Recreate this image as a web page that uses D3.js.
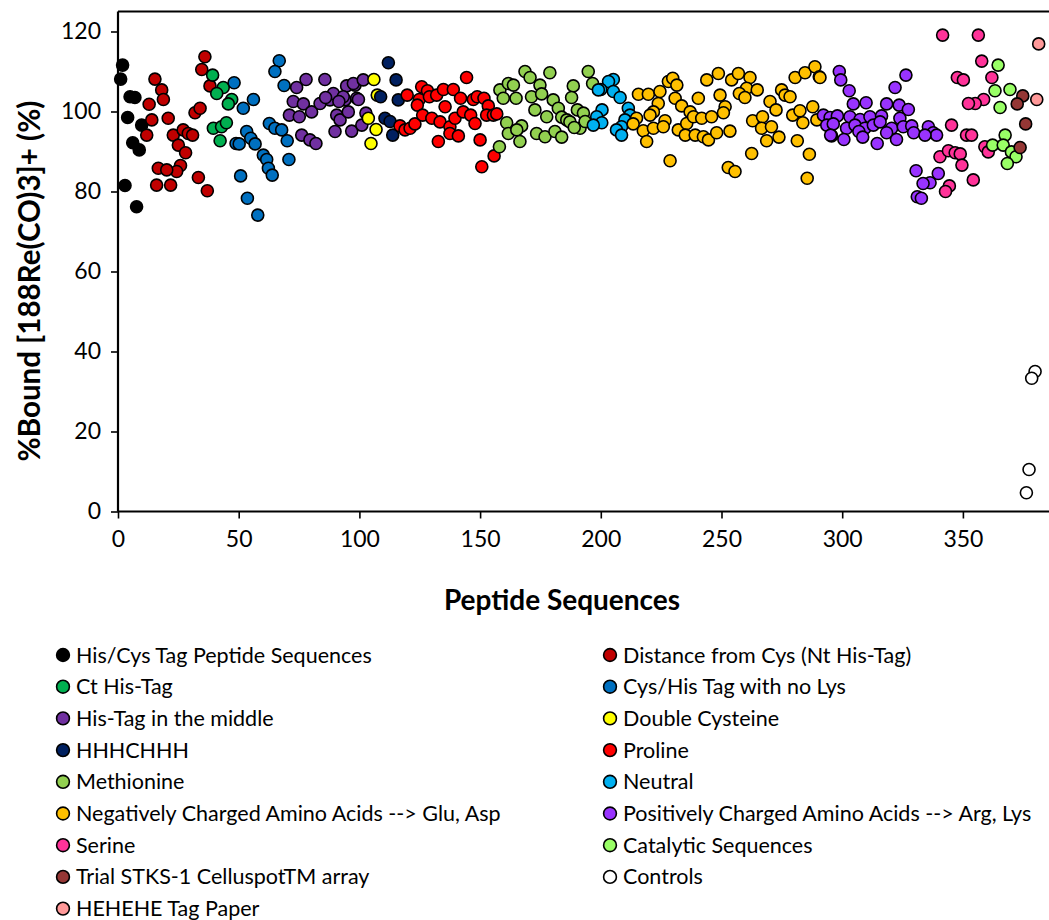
<!DOCTYPE html>
<html>
<head>
<meta charset="utf-8">
<script src="https://cdn.jsdelivr.net/npm/d3@7/dist/d3.min.js"></script>
<style>
  html, body { margin: 0; padding: 0; background: #fff; }
  svg { display: block; font-family: Lato, "Open Sans", sans-serif; }
</style>
</head>
<body>
<svg id="chart" width="1049" height="920"></svg>
<script>
// Peptide index vs. % bound, one array of [peptide, %bound] per sequence group
const hisCysTag = [[1.9,111.6],[1.1,108.1],[5,103.7],[7,103.5],[4,98.5],[9.8,96.6],[6.1,92.2],[8.8,90.4],[2.9,81.5],[7.7,76.2]];
const distanceFromCys = [[15.3,108.1],[18.1,105.4],[18.8,103],[12.9,101.8],[20.8,98.3],[14,97.9],[11.9,94.1],[22.9,94.1],[27,95.4],[29.1,94.5],[30.9,94.1],[25,91.6],[28,89.7],[25.9,86.5],[24.3,85],[16.7,85.8],[20.2,85.4],[16,81.6],[21.8,81.6],[33.3,83.5],[37,80.2],[36,113.7],[34.7,110.5],[38.1,106.4],[31.9,99.7],[34,100.8]];
const ctHisTag = [[39.2,109.1],[43.6,106],[40.9,104.5],[47.1,103],[45.7,101.9],[39.5,95.8],[42.9,96.2],[44.9,97.2],[42.3,92.7]];
const cysHisNoLys = [[48.1,107.2],[56.1,103],[51.9,100.8],[48.9,92],[50.2,91.9],[53.3,95],[55,93.3],[56.8,91.9],[60.2,89.1],[61.6,88],[62.3,85.8],[63.9,84.1],[50.8,83.9],[53.6,78.3],[57.9,74.1],[62.7,97],[65,95.8],[67.8,95.4],[70.1,92.7],[70.8,88],[66.8,112.7],[65,110],[68.8,106.5]];
const hisTagMiddle = [[74,106],[77.9,108],[85.7,108],[72.6,102.5],[76.8,101.9],[71,99.1],[75.1,98.7],[80.2,99.9],[83.7,102],[87.8,102.9],[89.2,104.5],[90.6,99.1],[92,97.9],[95.4,99.9],[94,102.9],[94.7,106.4],[98.2,106.6],[98.9,103.3],[76.1,94.1],[79.5,92.9],[82,92],[89.9,95],[96.8,95.1],[97.5,107],[101.6,107.9],[93.3,103.7],[99.6,103],[102.7,99.6],[101,96.6],[86,103.5],[91.5,102.5]];
const doubleCys = [[106,108],[107.4,104.1],[103.7,98.3],[106.9,95.5],[104.8,92]];
const hhhchhh = [[112,112.2],[115.2,107.9],[108.8,103.7],[116.1,102.9],[110.6,98.3],[112.7,97.5],[113.8,94.1]];
const proline = [[116.8,96.4],[118.9,95.4],[121,95.8],[123,96.9],[119.8,104.1],[125.8,106.2],[128.2,105.2],[124.8,103],[124,101.6],[129,103.7],[132,104.1],[134.8,105.5],[138.9,105.5],[141.9,103.3],[144.4,108.5],[135.5,101.2],[126.2,99.1],[130,98.3],[133.4,97.4],[137.5,96.2],[139.6,98.3],[143,99.9],[146.1,99.1],[147.9,97],[147.2,103],[148.8,103.7],[151.6,103.3],[153.4,101.4],[152.7,99.1],[155.5,99.1],[156.9,99.4],[132.7,92.5],[137.5,94.5],[141,93.9],[150,92.9],[155.8,88.9],[150.7,86.2]];
const methionine = [[158.2,105.4],[161.7,107],[163.8,106.6],[159.6,103.3],[164.9,103.3],[168.6,110],[170.7,108.5],[174.8,106.6],[178.9,109.7],[171.3,103.7],[175.5,104.4],[180.3,102.9],[188.6,106.4],[187.9,103.5],[182.4,100.8],[172.7,100.4],[177.6,98.7],[161,97.2],[167.2,96.4],[161.7,94.5],[165.2,95.4],[166.5,92.5],[173.4,94.5],[176.9,93.7],[181,95],[183.8,93.6],[183.8,98.6],[185.9,97.9],[187.2,97.4],[190.3,100.4],[192.8,99.6],[191.4,95.8],[194.8,110],[196.6,107],[158,91.2],[193.5,97.5],[189,96]];
const neutral = [[205.2,108],[203.2,107.5],[200,105.5],[205.2,105],[208,103.5],[200.5,100.4],[198.3,98.7],[200.4,97.2],[196.9,96.6],[211.4,100.8],[212.1,99.1],[210,97.9],[208.6,96.2],[206.5,95.4],[208.6,94.1],[199,105.4]];
const negativeCharged = [[215.6,104.3],[219.7,104.3],[224.5,105],[228,107.5],[229.8,108.3],[231.5,106.6],[223.8,102],[221.8,99.9],[220.4,99.1],[230.8,103.3],[233.5,101.4],[237,99.9],[240.4,103.3],[214.8,98.3],[213.4,96.9],[217.6,95.2],[221.8,95.8],[226.6,97.7],[225.9,96.2],[219,92.5],[232.1,95.4],[235.6,97],[238.4,98.7],[241.8,98.3],[245.9,98.7],[235,94.1],[239.1,94.1],[242.5,93.7],[244.6,92.9],[248,94.7],[253.5,95.1],[243.9,107.9],[248.7,109.5],[254.2,107.9],[257,109.5],[261.8,108.5],[260.4,105.8],[257.4,104.5],[259.7,103.5],[264.8,105.4],[249.4,104.1],[251.5,101.2],[250.8,99.7],[228.7,87.7],[252.8,86],[255.6,85],[262.5,89.5],[262.9,97.7],[267,98.7],[266.6,95.8],[270.7,96.2],[268.7,92.7],[273.8,93.6],[270.1,102.5],[272.6,100.4],[274.9,105.4],[276.3,104.1],[278.4,103.7],[280.5,108.5],[284.6,109.7],[288.7,111.2],[290.5,108.7],[279.5,99.1],[282.5,100.2],[283.7,97.2],[287.8,101.2],[289.5,97.9],[281.4,92.7],[286.4,89.3],[285.5,83.3],[290.8,108.5]];
const positiveCharged = [[298.8,110],[299.4,107.9],[302.9,105.2],[304.6,101.9],[309.9,102.2],[326.4,109.1],[321.9,106],[318.4,101.9],[323.6,101.6],[327.4,100.5],[292.2,99.1],[295,98.5],[298,98.9],[303.2,98.7],[307.4,98],[311.5,98.7],[316.3,98.9],[323.9,98.3],[293.6,96.6],[296.3,96.9],[301.8,95.8],[305.3,96.6],[309.4,95.8],[312.9,96.6],[315.7,97.4],[320.5,95.8],[325.3,96.2],[328.8,96.4],[335.7,96.2],[337.7,94.7],[339.1,94.1],[295.6,93.9],[300.7,93],[306.9,95],[308.5,93.6],[314.5,92],[318.4,94.7],[322.5,93],[329.6,94.7],[334.3,94.1],[330.6,85.2],[339.8,84.5],[336.4,82.2],[333.5,82],[331.1,78.7],[332.8,78.3],[295.2,94.1]];
const serine = [[341.6,119.1],[356.4,119.1],[357.8,112.6],[347.7,108.5],[350.2,107.9],[362,108.5],[358.6,103],[355.1,102],[352.3,102],[345.3,96.6],[351.5,94.1],[353.6,94.1],[340.5,88.7],[344,90.2],[346.8,89.7],[348.9,89.4],[349.6,86.6],[359.1,91.2],[360.5,89.9],[354.3,82.9],[344.4,81.4],[342.8,80]];
const catalytic = [[364.6,111.6],[363.3,105.2],[369.5,105.5],[365.4,101],[367.5,94.1],[362.3,91.6],[366.7,91.6],[370.1,89.9],[372,88.7],[368.4,87]];
const trialStks = [[374.8,103.9],[372.5,101.9],[376,96.9],[373.7,91]];
const controls = [[379.9,35],[378.5,33.3],[377.4,10.5],[376.3,4.7]];
const hehehe = [[381.4,116.9],[380.6,103]];

const seriesNames = [
  "His/Cys Tag Peptide Sequences", "Distance from Cys (Nt His-Tag)",
  "Ct His-Tag", "Cys/His Tag with no Lys",
  "His-Tag in the middle", "Double Cysteine",
  "HHHCHHH", "Proline",
  "Methionine", "Neutral",
  "Negatively Charged Amino Acids --> Glu, Asp", "Positively Charged Amino Acids --> Arg, Lys",
  "Serine", "Catalytic Sequences",
  "Trial STKS-1 CelluspotTM array", "Controls",
  "HEHEHE Tag Paper"
];
const seriesValues = [
  hisCysTag, distanceFromCys, ctHisTag, cysHisNoLys, hisTagMiddle, doubleCys,
  hhhchhh, proline, methionine, neutral, negativeCharged, positiveCharged,
  serine, catalytic, trialStks, controls, hehehe
];
const seriesColors = [
  "#000000", "#C00000", "#00B050", "#0070C0", "#7030A0", "#FFFF00",
  "#002060", "#FF0000", "#92D050", "#00B0F0", "#FFC000", "#9933FF",
  "#FF3399", "#99FF66", "#953735", "#FFFFFF", "#FF9999"
];
const xTicks = [0, 50, 100, 150, 200, 250, 300, 350];
const yTicks = [0, 20, 40, 60, 80, 100, 120];

const svg = d3.select("#chart");
const W = 1049;
const plot = { left: 118, top: 11.5, bottom: 511.5 };

const x = d3.scaleLinear().domain([0, 390]).range([plot.left, plot.left + 390 * 2.414]);
const y = d3.scaleLinear().domain([0, 125]).range([plot.bottom, plot.top]);

svg.append("clipPath").attr("id", "clipW")
  .append("rect").attr("x", 0).attr("y", 0).attr("width", W).attr("height", 920);

const root = svg.append("g").attr("clip-path", "url(#clipW)");

// axes
const xAxis = root.append("g")
  .attr("transform", `translate(0,${plot.bottom})`)
  .call(d3.axisBottom(x).tickValues(xTicks).tickSize(7).tickSizeOuter(0).tickPadding(12));
const yAxis = root.append("g")
  .attr("transform", `translate(${plot.left},0)`)
  .call(d3.axisLeft(y).tickValues(yTicks).tickSize(7).tickSizeOuter(0).tickPadding(10));

[xAxis, yAxis].forEach(a => {
  a.select(".domain").attr("stroke", "#000").attr("stroke-width", 2.2);
  a.selectAll(".tick line").attr("stroke", "#000").attr("stroke-width", 1.6);
  a.selectAll(".tick text").attr("fill", "#000")
    .style("font-family", "Lato, sans-serif").style("font-size", "23px");
});
xAxis.select(".domain").attr("d", `M${plot.left},0H${W + 20}`);
yAxis.select(".domain").attr("d", `M0,${plot.top}V${plot.bottom}`);

// top border of plot area
root.append("line")
  .attr("x1", plot.left).attr("x2", W + 20)
  .attr("y1", plot.top).attr("y2", plot.top)
  .attr("stroke", "#000").attr("stroke-width", 2.2);

// axis titles
root.append("text")
  .attr("x", 562).attr("y", 610)
  .attr("text-anchor", "middle")
  .style("font-weight", "bold").style("font-size", "28px")
  .text("Peptide Sequences");
root.append("text")
  .attr("transform", `translate(40,281) rotate(-90)`)
  .attr("text-anchor", "middle")
  .style("font-weight", "bold").style("font-size", "29.5px")
  .text("%Bound [188Re(CO)3]+ (%)");

// markers
const markerR = 6;
seriesValues.forEach((vals, i) => {
  root.append("g").selectAll("circle")
    .data(vals).join("circle")
    .attr("cx", d => x(d[0]))
    .attr("cy", d => y(d[1]))
    .attr("r", markerR)
    .attr("fill", seriesColors[i])
    .attr("stroke", "#000")
    .attr("stroke-width", 1.6);
});

// legend: two columns, filled row by row
const legend = svg.append("g");
seriesNames.forEach((name, i) => {
  const col = i % 2, row = Math.floor(i / 2);
  const g = legend.append("g")
    .attr("transform", `translate(${col === 0 ? 63 : 610},${655 + row * 31.7})`);
  g.append("circle").attr("r", 6.4)
    .attr("fill", seriesColors[i]).attr("stroke", "#000").attr("stroke-width", 1.6);
  g.append("text").attr("x", 13).attr("dy", "0.35em")
    .style("font-size", "21.5px").text(name);
});
</script>
</body>
</html>
